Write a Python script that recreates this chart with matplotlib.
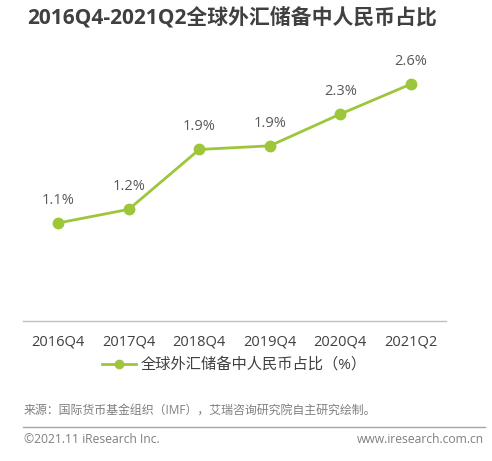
import matplotlib.pyplot as plt

plt.rcParams['font.family'] = ['Open Sans', 'Noto Sans CJK SC', 'DejaVu Sans']

# données
periodes = ['2016Q4', '2017Q4', '2018Q4', '2019Q4', '2020Q4', '2021Q2']
part_rmb = [1.08, 1.23, 1.89, 1.93, 2.28, 2.61]
etiquettes = ['1.1%', '1.2%', '1.9%', '1.9%', '2.3%', '2.6%']

vert = '#9DC63B'
gris = '#595959'

fig = plt.figure(figsize=(4.92, 4.61), dpi=100)
ax = fig.add_axes([0.0467, 0.3037, 0.86, 0.566])

x = range(len(periodes))
ax.plot(x, part_rmb, color=vert, lw=2, marker='o', ms=7.5,
        label='全球外汇储备中人民币占比（%）')
for i, (v, lab) in enumerate(zip(part_rmb, etiquettes)):
    ax.annotate(lab, (i, v), xytext=(0, 11), textcoords='offset points',
                ha='center', va='bottom', fontsize=10.5, color=gris)

ax.set_xlim(-0.5, 5.5)
ax.set_ylim(0, 2.875)
ax.set_xticks(list(x))
ax.set_xticklabels(periodes, fontsize=10.5, color='#404040')
ax.tick_params(axis='x', length=0, pad=10)
ax.set_yticks([])
for s in ['top', 'right', 'left']:
    ax.spines[s].set_visible(False)
ax.spines['bottom'].set_color('#BFBFBF')
ax.spines['bottom'].set_linewidth(1)

ax.legend(loc='center', bbox_to_anchor=(0.5, -0.17), frameon=False,
          fontsize=11, handlelength=2.2, handletextpad=0.3, markerscale=0.8,
          labelcolor='#404040')

fig.text(0.055, 0.962, '2016Q4-2021Q2全球外汇储备中人民币占比', fontsize=15,
         fontweight='bold', color='#404040', va='center', ha='left')
fig.text(0.049, 0.110, '来源：国际货币基金组织（IMF），艾瑞咨询研究院自主研究绘制。',
         fontsize=8.6, color='#7F7F7F', va='center', ha='left')
fig.add_artist(plt.Line2D([0.047, 0.986], [0.074, 0.074], color='#A6A6A6', lw=1))
fig.text(0.049, 0.047, '©2021.11 iResearch Inc.', fontsize=8.7, color='#7F7F7F',
         va='center', ha='left')
fig.text(0.984, 0.047, 'www.iresearch.com.cn', fontsize=8.7, color='#7F7F7F',
         va='center', ha='right')

plt.savefig('out.png', dpi=100)
